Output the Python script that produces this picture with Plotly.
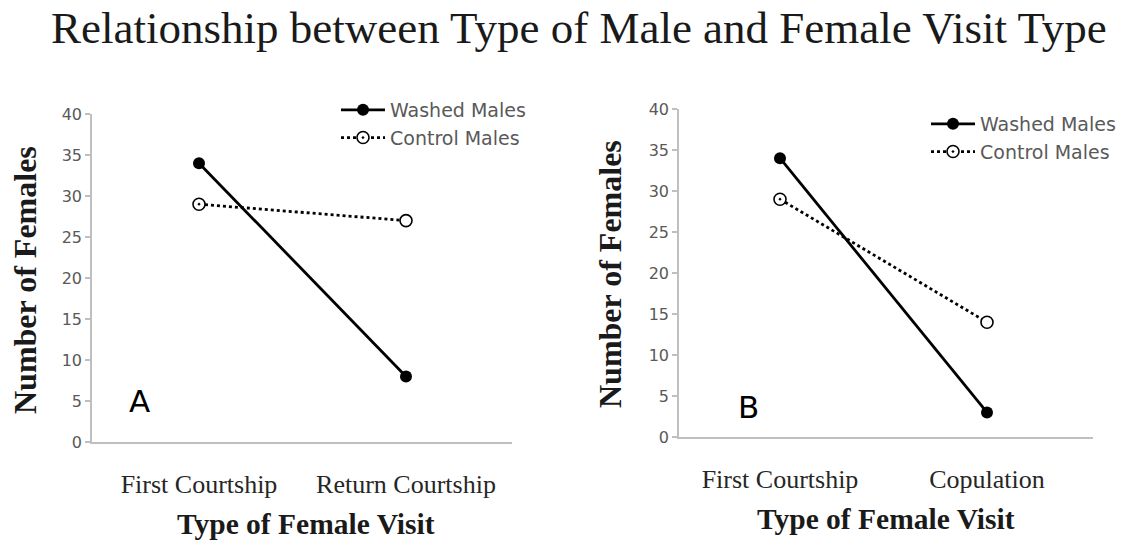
import plotly.graph_objects as go

W, H = 1139, 548

categories_a = ["First Courtship", "Return Courtship"]
categories_b = ["First Courtship", "Copulation"]
washed_a = [34, 8]
control_a = [29, 27]
washed_b = [34, 3]
control_b = [29, 14]
y_ticks = [0, 5, 10, 15, 20, 25, 30, 35, 40]

SERIF = "Liberation Serif, Times New Roman, serif"
SANS = "DejaVu Sans, Verdana, sans-serif"
GRAY_TXT = "#595959"
AXIS_GRAY = "#bfbfbf"

fig = go.Figure()

def add_panel(cats, washed, control, xa, ya, leg):
    fig.add_trace(go.Scatter(
        x=cats, y=washed, name="Washed Males", mode="lines+markers",
        line=dict(color="black", width=2.8),
        marker=dict(symbol="circle", size=12, color="black"),
        xaxis=xa, yaxis=ya, legend=leg))
    fig.add_trace(go.Scatter(
        x=cats, y=control, name="Control Males", mode="lines+markers",
        line=dict(color="black", width=2.8, dash="dot"),
        marker=dict(symbol=["circle-dot", "circle"], size=12, color="white",
                    line=dict(color="black", width=1.6)),
        xaxis=xa, yaxis=ya, legend=leg))

add_panel(categories_a, washed_a, control_a, "x", "y", "legend")
add_panel(categories_b, washed_b, control_b, "x2", "y2", "legend2")

def px_x(p):
    return p / W

def px_y(p):
    return (H - p) / H

def cat_range(left, c0, c1, right):
    step = c1 - c0
    return [-(c0 - left) / step, 1 + (right - c1) / step]

xcommon = dict(type="category", showline=True, linecolor=AXIS_GRAY,
               linewidth=1.5, showgrid=False, zeroline=False, ticks="",
               tickfont=dict(family=SERIF, size=26, color="#262626"),
               ticklabelstandoff=18, fixedrange=True)
ycommon = dict(range=[0, 40], tickvals=y_ticks, showline=True, linecolor=AXIS_GRAY,
               linewidth=1.5, showgrid=False, zeroline=False, ticks="outside",
               ticklen=5, tickcolor=AXIS_GRAY, tickwidth=1.5,
               tickfont=dict(family=SANS, size=16, color=GRAY_TXT), fixedrange=True)

A_L, A_C0, A_C1, A_R, A_B, A_T = 92, 199, 406, 512, 442, 114
B_L, B_C0, B_C1, B_R, B_B, B_T = 679, 780, 987, 1093, 437, 109

fig.update_layout(
    width=W, height=H,
    margin=dict(l=0, r=0, t=0, b=0, autoexpand=False),
    paper_bgcolor="white", plot_bgcolor="white",
    xaxis=dict(domain=[px_x(A_L), px_x(A_R)], anchor="y",
               range=cat_range(A_L, A_C0, A_C1, A_R), **xcommon),
    yaxis=dict(domain=[px_y(A_B), px_y(A_T)], anchor="x", **ycommon),
    xaxis2=dict(domain=[px_x(B_L), px_x(B_R)], anchor="y2",
                range=cat_range(B_L, B_C0, B_C1, B_R), **xcommon),
    yaxis2=dict(domain=[px_y(B_B), px_y(B_T)], anchor="x2", **ycommon),
    legend=dict(x=px_x(336), y=px_y(91), xanchor="left", yanchor="top",
                bgcolor="rgba(0,0,0,0)", font=dict(family=SANS, size=19, color=GRAY_TXT),
                itemwidth=44, tracegroupgap=0),
    legend2=dict(x=px_x(926), y=px_y(105), xanchor="left", yanchor="top",
                 bgcolor="rgba(0,0,0,0)", font=dict(family=SANS, size=19, color=GRAY_TXT),
                 itemwidth=44, tracegroupgap=0),
    showlegend=True,
)

annotations = [
    dict(text="Relationship between Type of Male and Female Visit Type",
         x=px_x(579), y=px_y(28), font=dict(family=SERIF, size=45, color="#1a1a1a")),
    dict(text="<b>Number of Females</b>", x=px_x(25), y=px_y(280), textangle=-90,
         font=dict(family=SERIF, size=32, color="#1a1a1a")),
    dict(text="<b>Number of Females</b>", x=px_x(610), y=px_y(274), textangle=-90,
         font=dict(family=SERIF, size=32, color="#1a1a1a")),
    dict(text="<b>Type of Female Visit</b>", x=px_x(306), y=px_y(524),
         font=dict(family=SERIF, size=29.5, color="#1a1a1a")),
    dict(text="<b>Type of Female Visit</b>", x=px_x(886), y=px_y(519),
         font=dict(family=SERIF, size=29.5, color="#1a1a1a")),
    dict(text="A", x=px_x(139), y=px_y(401), font=dict(family=SANS, size=31, color="black")),
    dict(text="B", x=px_x(749), y=px_y(407), font=dict(family=SANS, size=31, color="black")),
]
for a in annotations:
    a.update(xref="paper", yref="paper", showarrow=False, xanchor="center", yanchor="middle")
fig.update_layout(annotations=annotations)

fig.write_html(
    "out.html",
    config={"displayModeBar": False},
    post_script="document.body.style.margin='0';document.body.style.overflow='hidden';",
)
